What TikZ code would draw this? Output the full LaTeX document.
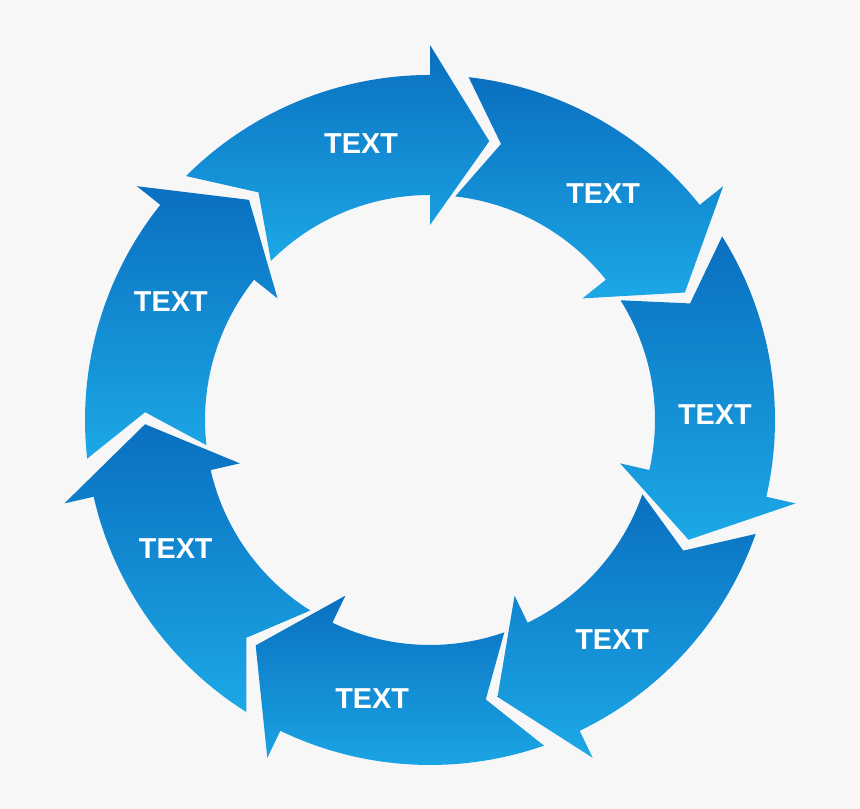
\documentclass[tikz,border=0pt]{standalone}
\usepackage{fontspec}
\setmainfont{Liberation Sans}
\definecolor{bg}{HTML}{F7F7F8}
\definecolor{topc}{HTML}{0A6FC0}
\definecolor{botc}{HTML}{1CA8E6}
\tikzset{seg/.style={top color=topc,bottom color=botc,draw=none},
lab/.style={text=white,font=\bfseries\fontsize{8.2}{9}\selectfont}}
\begin{document}
\begin{tikzpicture}
\fill[bg] (0,0) rectangle (8.6,8.09);
\useasboundingbox (0,0) rectangle (8.6,8.09);
\coordinate (O) at (4.30,3.89);
\foreach \k in {0,...,6}{
\pgfmathsetmacro{\c}{104-51.4286*\k}
\pgfmathsetmacro{\ta}{\c+31}
\pgfmathsetmacro{\tn}{\c+23}
\pgfmathsetmacro{\hb}{\c-14}
\pgfmathsetmacro{\tp}{\c-26}
\begin{scope}[shift={(O)}]
\path[seg] (\ta:3.45) arc[start angle=\ta,end angle=\hb,radius=3.45] -- (\hb:3.75) -- (\tp:2.85) -- (\hb:1.95) -- (\hb:2.25) arc[start angle=\hb,end angle=\ta,radius=2.25] -- (\tn:2.85) -- cycle;
\node[lab] (t\k) at (\c:2.85) {TEXT};
\end{scope}
}
\end{tikzpicture}
\end{document}
